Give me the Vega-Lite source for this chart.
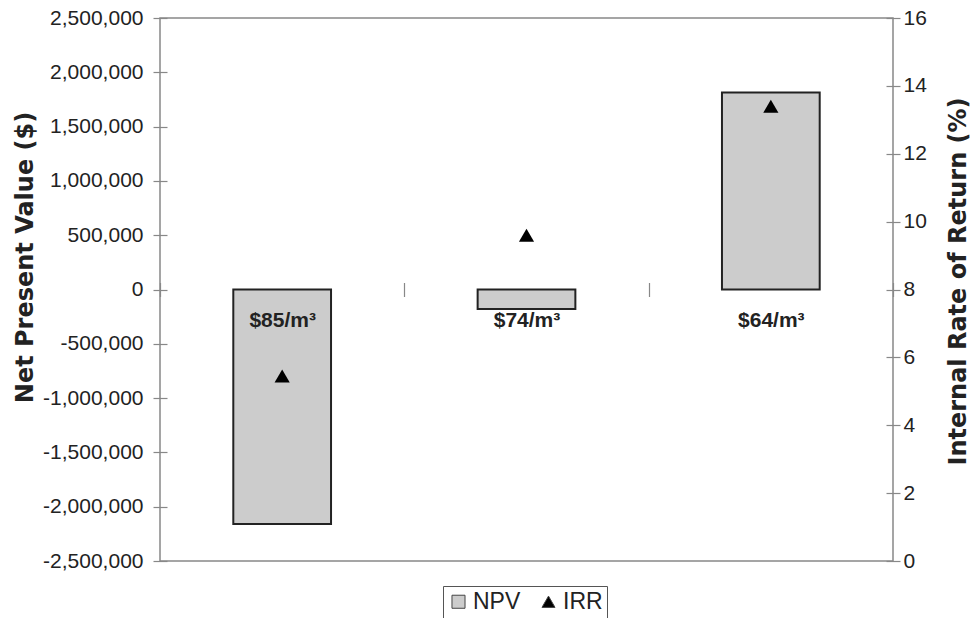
{
  "$schema": "https://vega.github.io/schema/vega-lite/v6.json",
  "width": 733,
  "height": 543,
  "autosize": {"type": "none"},
  "padding": {"left": 160, "top": 18, "right": 82, "bottom": 57},
  "background": "white",
  "data": {
    "values": [
      {"price": "$85/m³", "npv": -2160000, "irr": 5.45},
      {"price": "$74/m³", "npv": -180000, "irr": 9.6},
      {"price": "$64/m³", "npv": 1815000, "irr": 13.4}
    ]
  },
  "encoding": {
    "x": {
      "field": "price",
      "type": "nominal",
      "sort": null,
      "scale": {"paddingInner": 0, "paddingOuter": 0},
      "axis": {
        "title": null,
        "orient": "bottom",
        "offset": -278.5,
        "domain": false,
        "tickBand": "extent",
        "tickSize": 14,
        "labelAngle": 0,
        "labelPadding": 13,
        "labelFontSize": 21,
        "labelFontWeight": "bold",
        "zindex": 1
      }
    }
  },
  "layer": [
    {
      "layer": [
        {
          "mark": {"type": "bar", "width": {"band": 0.4}, "stroke": "#222222", "strokeWidth": 2},
          "encoding": {
            "y": {
              "field": "npv",
              "type": "quantitative",
              "scale": {"domain": [-2500000, 2500000], "nice": false},
              "axis": {
                "title": "Net Present Value ($)",
                "orient": "left",
                "offset": -7,
                "tickSize": 14,
                "labelPadding": 10,
                "format": ",.0f",
                "values": [-2500000, -2000000, -1500000, -1000000, -500000, 0, 500000, 1000000, 1500000, 2000000, 2500000],
                "titleAngle": 270,
                "titleX": -142,
                "titleY": 239,
                "titleAlign": "center",
                "titleBaseline": "middle"
              }
            },
            "color": {
              "datum": "NPV",
              "scale": {"domain": ["NPV", "IRR"], "range": ["#cccccc", "#000000"]},
              "legend": {"title": null}
            }
          }
        },
        {
          "mark": {"type": "rule", "color": "#888888", "strokeWidth": 1.5},
          "encoding": {"y": {"datum": 0, "type": "quantitative"}}
        }
      ]
    },
    {
      "mark": {"type": "point", "filled": true, "size": 230, "opacity": 1},
      "encoding": {
        "y": {
          "field": "irr",
          "type": "quantitative",
          "scale": {"domain": [0, 16], "nice": false},
          "axis": {
            "title": "Internal Rate of Return (%)",
            "orient": "right",
            "offset": -7,
            "tickSize": 14,
            "labelPadding": 3,
            "values": [0, 2, 4, 6, 8, 10, 12, 14, 16],
            "titleAngle": 270,
            "titleX": 72,
            "titleY": 263,
            "titleAlign": "center",
            "titleBaseline": "middle"
          }
        },
        "color": {"datum": "IRR", "legend": {"title": null}},
        "shape": {
          "datum": "IRR",
          "scale": {"domain": ["NPV", "IRR"], "range": ["square", "triangle-up"]},
          "legend": {"title": null}
        }
      }
    }
  ],
  "resolve": {"scale": {"y": "independent"}},
  "config": {
    "locale": {
      "number": {"decimal": ".", "thousands": ",", "grouping": [3], "currency": ["$", ""], "minus": "-"}
    },
    "view": {"stroke": "#888888", "strokeWidth": 1.5},
    "axis": {
      "grid": false,
      "domain": false,
      "tickColor": "#888888",
      "tickWidth": 1.2,
      "labelFont": "Liberation Sans",
      "labelFontSize": 21,
      "labelColor": "#222222",
      "titleFont": "DejaVu Sans",
      "titleFontSize": 24,
      "titleFontWeight": "bold",
      "titleColor": "#222222"
    },
    "legend": {
      "orient": "none",
      "legendX": 283,
      "legendY": 568,
      "direction": "horizontal",
      "strokeColor": "#555555",
      "fillColor": "white",
      "padding": 4,
      "labelFont": "Liberation Sans",
      "labelFontSize": 23,
      "labelColor": "#222222",
      "labelOffset": 3,
      "symbolSize": 170,
      "symbolStrokeColor": "#444444",
      "symbolStrokeWidth": 1,
      "columnPadding": 16
    }
  }
}
